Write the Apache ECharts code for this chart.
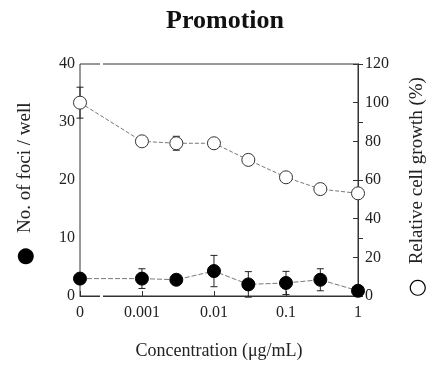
<!DOCTYPE html>
<html><head><meta charset="utf-8">
<script src="https://cdn.jsdelivr.net/npm/echarts@6/dist/echarts.min.js"></script>
<style>html,body{margin:0;padding:0;background:#fff}#c{width:430px;height:365px}</style>
</head><body><div id="c"></div>
<script>
var concentrations = [0, 0.001, 0.003, 0.01, 0.03, 0.1, 0.3, 1];
var fociMean = [3.0, 3.0, 2.8, 4.3, 2.0, 2.25, 2.8, 0.9];
var fociErr = [0, 1.7, 0, 2.7, 2.2, 2.0, 1.9, 0];
var growthMean = [100, 80, 79, 79, 70.4, 61.4, 55.3, 53.1];
var growthErr = [8, 0, 3.6, 0, 0, 0, 0, 0];
var xTickValues = [0, 0.001, 0.01, 0.1, 1];
var xTickLabels = ['0', '0.001', '0.01', '0.1', '1'];
var ZERO_POS = -3.86;
function xpos(c){ return c === 0 ? ZERO_POS : Math.log10(c); }

var fociData = concentrations.map(function(c,i){ return [xpos(c), fociMean[i]]; });
var growthData = concentrations.map(function(c,i){ return [xpos(c), growthMean[i]]; });
var fociErrData = concentrations.map(function(c,i){ return [xpos(c), fociMean[i]-fociErr[i], fociMean[i]+fociErr[i]]; });
var growthErrData = concentrations.map(function(c,i){ return [xpos(c), growthMean[i]-growthErr[i], growthMean[i]+growthErr[i]]; });
var tickPos = xTickValues.map(xpos);

function errRender(params, api){
  var x = api.value(0), lo = api.value(1), hi = api.value(2);
  if (hi - lo <= 0) return null;
  var p1 = api.coord([x, lo]), p2 = api.coord([x, hi]);
  var w = 3.5;
  var st = {stroke:'#222', lineWidth:1};
  return {type:'group', children:[
    {type:'line', shape:{x1:p1[0],y1:p1[1],x2:p2[0],y2:p2[1]}, style:st},
    {type:'line', shape:{x1:p1[0]-w,y1:p1[1],x2:p1[0]+w,y2:p1[1]}, style:st},
    {type:'line', shape:{x1:p2[0]-w,y1:p2[1],x2:p2[0]+w,y2:p2[1]}, style:st}
  ]};
}

var FONT = '"Liberation Serif", "DejaVu Serif", serif';
var chart = echarts.init(document.getElementById('c'), null, {renderer:'canvas'});
chart.setOption({
  animation:false,
  backgroundColor:'#fff',
  title:{text:'Promotion', left:220, textAlign:'center', top:3,
    textStyle:{fontFamily:FONT, fontWeight:'bold', fontSize:26, color:'#111'}},
  grid:{left:80, right:72, top:64, bottom:69, containLabel:false, outerBoundsMode:'none',
    show:true, borderColor:'#333', borderWidth:1, backgroundColor:'transparent'},
  xAxis:{type:'value', min:ZERO_POS, max:0,
    name:'Concentration (\u03bcg/mL)', nameLocation:'middle', nameGap:46,
    nameTextStyle:{fontFamily:FONT, fontSize:18, color:'#222'},
    axisLine:{show:true, lineStyle:{color:'#333', width:1}},
    axisTick:{show:true, inside:true, length:5, lineStyle:{color:'#333'}, customValues:tickPos},
    axisLabel:{fontFamily:FONT, fontSize:16, color:'#222', margin:9, customValues:tickPos,
      formatter:function(v){ for (var i=0;i<tickPos.length;i++){ if (Math.abs(tickPos[i]-v)<1e-6) return xTickLabels[i]; } return ''; }},
    splitLine:{show:false}},
  yAxis:[
    {type:'value', min:0, max:40, interval:10, position:'left',
      name:'{s|\u25cf}   No. of foci / well', nameLocation:'middle', nameRotate:90, nameGap:45,
      nameTextStyle:{fontFamily:FONT, fontSize:19, color:'#222', lineHeight:19, padding:[0,8,0,0],
        rich:{s:{fontSize:21, fontFamily:'"DejaVu Sans", sans-serif', color:'#000', lineHeight:19}}},
      axisLine:{show:true, lineStyle:{color:'#333'}},
      axisTick:{show:true, inside:true, length:5, lineStyle:{color:'#333'}},
      axisLabel:{fontFamily:FONT, fontSize:16, color:'#222', margin:5},
      splitLine:{show:false}},
    {type:'value', min:0, max:120, interval:20, position:'right',
      name:'{s|\u25cb}   Relative cell growth (%)', nameLocation:'middle', nameRotate:90, nameGap:50,
      nameTextStyle:{fontFamily:FONT, fontSize:19, color:'#222', lineHeight:19, padding:[0,14,0,0],
        rich:{s:{fontSize:21, fontFamily:'"DejaVu Sans", sans-serif', color:'#000', lineHeight:19}}},
      axisLine:{show:true, lineStyle:{color:'#333'}},
      axisTick:{show:true, inside:true, length:5, lineStyle:{color:'#333'}},
      axisLabel:{fontFamily:FONT, fontSize:16, color:'#222', margin:7},
      splitLine:{show:false}}
  ],
  series:[
    {type:'custom', yAxisIndex:1, data:growthErrData, renderItem:errRender, z:2, silent:true},
    {type:'custom', yAxisIndex:0, data:fociErrData, renderItem:errRender, z:2, silent:true},
    {type:'line', yAxisIndex:1, data:growthData, symbol:'circle', symbolSize:13, z:3,
      lineStyle:{color:'#555', width:0.8, type:[4,2]},
      itemStyle:{color:'#fff', borderColor:'#333', borderWidth:1}},
    {type:'line', yAxisIndex:0, data:fociData, symbol:'circle', symbolSize:13, z:3,
      lineStyle:{color:'#555', width:0.8, type:[5,2]},
      itemStyle:{color:'#000', borderColor:'#000', borderWidth:1}}
  ],
  graphic:[
    {type:'rect', shape:{x:100, y:62, width:3, height:4}, style:{fill:'#fff'}, z:100},
    {type:'rect', shape:{x:100, y:294, width:3, height:4}, style:{fill:'#fff'}, z:100}
  ]
});
</script></body></html>
